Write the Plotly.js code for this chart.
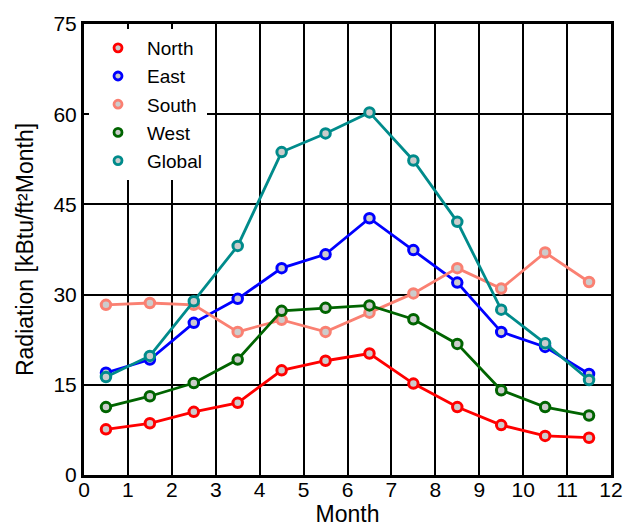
<!DOCTYPE html>
<html>
<head>
<meta charset="utf-8">
<script src="https://cdn.plot.ly/plotly-3.0.1.min.js"></script>
<style>html,body{margin:0;padding:0;background:#fff;}#chart{width:625px;height:528px;}</style>
</head>
<body>
<div id="chart"></div>
<script>
const months = [0.5, 1.5, 2.5, 3.5, 4.5, 5.5, 6.5, 7.5, 8.5, 9.5, 10.5, 11.5];
const seriesNames = ["North", "East", "South", "West", "Global"];
const north  = [7.6, 8.6, 10.5, 12.0, 17.4, 19.0, 20.2, 15.2, 11.3, 8.3, 6.5, 6.2];
const east   = [17.0, 19.2, 25.3, 29.3, 34.4, 36.7, 42.7, 37.4, 32.0, 23.8, 21.3, 16.8];
const south  = [28.3, 28.6, 28.3, 23.8, 25.8, 23.8, 27.0, 30.2, 34.4, 31.0, 37.0, 32.1];
const west   = [11.3, 13.1, 15.3, 19.2, 27.3, 27.8, 28.2, 25.9, 21.8, 14.1, 11.3, 9.9];
const global = [16.3, 19.8, 28.9, 38.1, 53.7, 56.8, 60.3, 52.3, 42.1, 27.5, 21.9, 15.8];
const xTicks = [0,1,2,3,4,5,6,7,8,9,10,11,12];
const yTicks = [0,15,30,45,60,75];

const colors = ["#ff0000", "#0000ff", "#fa8072", "#006400", "#008b8b"];
const values = [north, east, south, west, global];

const traces = [];
values.forEach((v, i) => {
  traces.push({
    x: months, y: v, type: "scatter", mode: "lines+markers",
    name: seriesNames[i], showlegend: false,
    line: {color: colors[i], width: 2.8},
    marker: {symbol: "circle", size: 9.5, color: "#cccccc", line: {color: colors[i], width: 3}},
    hoverinfo: "x+y"
  });
});
// legend entries: marker only
values.forEach((v, i) => {
  traces.push({
    x: [null], y: [null], type: "scatter", mode: "markers",
    name: seriesNames[i], legendgroup: seriesNames[i], showlegend: true,
    marker: {symbol: "circle", size: 8, color: "#cccccc", line: {color: colors[i], width: 2.8}}
  });
});

const layout = {
  width: 625, height: 528,
  margin: {l: 84, r: 14, t: 24, b: 53},
  paper_bgcolor: "#ffffff", plot_bgcolor: "#ffffff",
  font: {family: "Liberation Sans, Arial, sans-serif", color: "#000000"},
  xaxis: {
    range: [0, 12], tickmode: "array", tickvals: xTicks, ticktext: xTicks.map(String),
    showgrid: true, gridcolor: "#000000", gridwidth: 2,
    showline: true, linecolor: "#000000", linewidth: 3, mirror: true,
    zeroline: false, ticks: "", ticklabelstandoff: -6,
    tickfont: {size: 21, color: "#000"},
    title: {text: "Month", font: {size: 23, color: "#000"}, standoff: 6}
  },
  yaxis: {
    range: [0, 75], tickmode: "array", tickvals: yTicks, ticktext: yTicks.map(String),
    showgrid: true, gridcolor: "#000000", gridwidth: 2,
    showline: true, linecolor: "#000000", linewidth: 3, mirror: true,
    zeroline: false, ticks: "", ticklabelstandoff: 0,
    tickfont: {size: 21, color: "#000"},
    title: {text: "Radiation [kBtu/ft²Month]", font: {size: 23, color: "#000"}, standoff: 14}
  },
  legend: {
    x: 0.0095, y: 0.989, xanchor: "left", yanchor: "top",
    bgcolor: "#ffffff", borderwidth: 0,
    font: {size: 19, color: "#000"},
    itemwidth: 48,
    traceorder: "grouped", tracegroupgap: 0.5
  },
  showlegend: true
};

Plotly.newPlot("chart", traces, layout, {displayModeBar: false, staticPlot: true});
</script>
</body>
</html>
